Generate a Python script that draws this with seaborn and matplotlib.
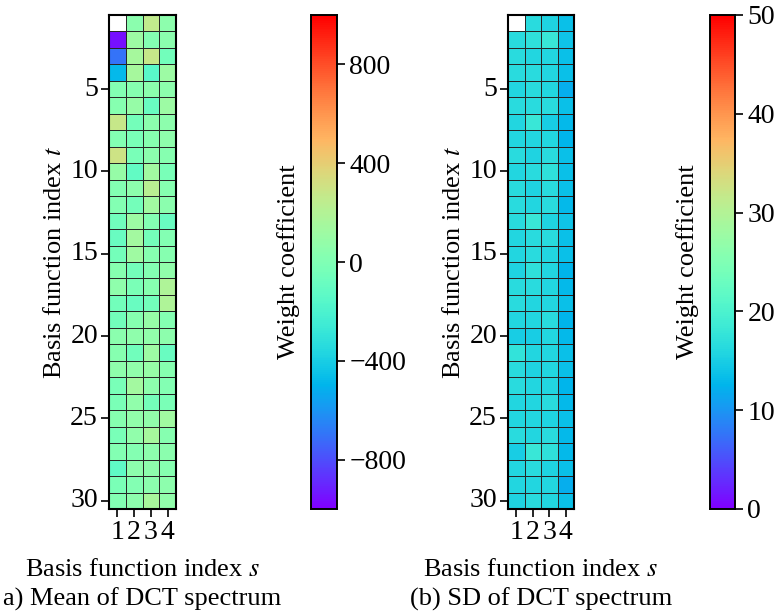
import numpy as np
import pandas as pd
import seaborn as sns
import matplotlib
matplotlib.use("Agg")
import matplotlib.pyplot as plt

sns.set_theme(style="white")
plt.rcParams['font.family'] = ['Liberation Serif', 'DejaVu Serif']
plt.rcParams['mathtext.fontset'] = 'stix'
plt.rcParams['axes.unicode_minus'] = True
for k in ['text.color', 'axes.labelcolor', 'xtick.color', 'ytick.color']:
    plt.rcParams[k] = 'black'

s_labels = [1, 2, 3, 4]
t_labels = list(range(1, 31))

mean_vals = [
    [np.nan, 40, 250, 50],
    [-960, 110, 20, 40],
    [-700, 150, 280, -50],
    [-480, 150, -150, 110],
    [10, 30, 40, 50],
    [30, 90, -90, 110],
    [280, -40, 40, 50],
    [10, -30, 30, 60],
    [300, -30, 40, 30],
    [90, -110, 130, -30],
    [10, 50, 220, 30],
    [10, -40, 130, 40],
    [-60, 110, 10, -90],
    [-90, 140, -40, 10],
    [-40, 120, 30, 30],
    [30, -40, 10, 70],
    [60, -20, 30, 180],
    [-50, -90, -50, 180],
    [-50, 30, 90, 20],
    [40, 60, 70, 50],
    [30, -60, 110, -90],
    [60, 70, 90, 30],
    [-30, 140, 50, 10],
    [-20, 70, -40, -20],
    [30, 70, 70, 130],
    [-30, 70, 150, 30],
    [10, 20, 50, 40],
    [-130, 50, 50, 30],
    [-20, 10, 40, 50],
    [10, 50, 160, 70],
]

sd_vals = [
    [np.nan, 16.5, 15.5, 13.5],
    [16.5, 17.0, 18.0, 14.0],
    [16.5, 16.0, 16.0, 13.5],
    [16.5, 16.5, 16.0, 13.5],
    [16.0, 16.5, 16.0, 12.0],
    [16.5, 16.5, 16.5, 13.5],
    [16.0, 18.0, 15.0, 13.0],
    [16.0, 16.0, 16.0, 12.5],
    [16.5, 15.5, 16.5, 13.5],
    [16.0, 16.5, 17.0, 13.5],
    [16.5, 15.5, 16.5, 13.5],
    [16.5, 16.0, 16.5, 13.0],
    [16.5, 18.0, 15.5, 14.0],
    [16.0, 16.5, 16.5, 13.5],
    [16.0, 16.5, 16.0, 13.5],
    [15.5, 17.0, 16.0, 12.5],
    [16.5, 16.5, 16.0, 13.0],
    [16.5, 16.0, 16.0, 13.5],
    [16.0, 16.0, 16.5, 12.5],
    [15.0, 15.0, 16.0, 13.0],
    [17.5, 16.0, 16.0, 13.5],
    [16.5, 15.5, 16.0, 13.5],
    [16.5, 16.0, 16.0, 12.5],
    [16.0, 16.0, 16.5, 13.0],
    [16.0, 16.0, 15.5, 13.5],
    [16.5, 16.0, 16.5, 13.0],
    [15.0, 18.0, 17.0, 13.0],
    [16.0, 16.5, 15.5, 13.5],
    [16.0, 16.0, 16.0, 12.0],
    [15.5, 16.5, 16.0, 13.5],
]

mean_df = pd.DataFrame(mean_vals, index=t_labels, columns=s_labels)
sd_df = pd.DataFrame(sd_vals, index=t_labels, columns=s_labels)

W, H = 779, 611
fig = plt.figure(figsize=(W / 100, H / 100), dpi=100)

def ax_at(x0, x1, y0, y1):
    return fig.add_axes([x0 / W, 1 - y1 / H, (x1 - x0) / W, (y1 - y0) / H])

FT = 20   # tick labels
FL = 19   # axis labels

panels = [
    (mean_df, -1000, 1000, [-800, -400, 0, 400, 800], (109, 176), (311, 337),
     "a) Mean of DCT spectrum"),
    (sd_df, 0, 50, [0, 10, 20, 30, 40, 50], (508, 574), (710, 735),
     "(b) SD of DCT spectrum"),
]

for df, vmin, vmax, cticks, (hx0, hx1), (cx0, cx1), caption in panels:
    ax = ax_at(hx0, hx1, 15, 509)
    cax = ax_at(cx0, cx1, 15, 509)
    sns.heatmap(df, ax=ax, cbar_ax=cax, cmap="rainbow", vmin=vmin, vmax=vmax,
                linewidths=0.7, linecolor="#262626", square=False,
                cbar_kws={"ticks": cticks})
    ax.set_yticks([t - 0.5 for t in range(5, 31, 5)])
    ax.set_yticklabels([str(t) for t in range(5, 31, 5)], rotation=0, fontsize=FT)
    ax.set_xticks([i + 0.5 for i in range(4)])
    ax.set_xticklabels([str(s) for s in s_labels], rotation=0, fontsize=FT)
    ax.tick_params(axis='both', which='both', length=6, width=1.2, color='black',
                   left=True, bottom=True, pad=2)
    for sp in ax.spines.values():
        sp.set_visible(True)
        sp.set_color('black')
        sp.set_linewidth(1.5)
    ax.set_ylabel("Basis function index $t$", fontsize=FL, labelpad=3)
    ax.set_xlabel("Basis function index $s$\n" + caption, fontsize=FL, labelpad=10,
                  linespacing=1.35)
    cax.tick_params(labelsize=FT, length=6, width=1.2, color='black', right=True, pad=3)
    cax.set_yticklabels([f"{v:g}".replace('-', '\u2212') for v in cticks])
    cax.yaxis.set_label_position('left')
    cax.set_ylabel("Weight coefficient", fontsize=FL, labelpad=8)
    for sp in cax.spines.values():
        sp.set_visible(True)
        sp.set_color('black')
        sp.set_linewidth(1.2)

fig.savefig("out.png", dpi=100)
